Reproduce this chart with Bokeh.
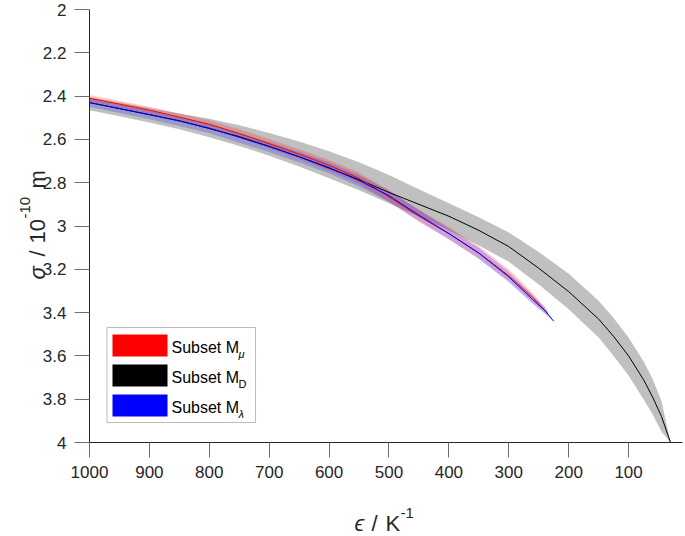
import math
from bokeh.plotting import figure
from bokeh.models import Range1d, FixedTicker, NumeralTickFormatter, Label, BoxAnnotation
from bokeh.embed import file_html
from bokeh.resources import INLINE

# ---------------- data ----------------
# Subset M_D (black line with grey band)
eps_D = [1000, 950, 900, 850, 800, 750, 700, 650, 600, 550, 500, 450, 400,
         350, 300, 250, 200, 150, 125, 100, 75, 60, 45, 30]
sig_D = [2.43, 2.458, 2.486, 2.514, 2.55, 2.587, 2.632, 2.68, 2.733, 2.786,
         2.845, 2.90, 2.955, 3.02, 3.095, 3.195, 3.303, 3.43, 3.51, 3.60,
         3.71, 3.79, 3.88, 4.0]
sig_D_lo = [2.405, 2.43, 2.455, 2.48, 2.505, 2.535, 2.57, 2.61, 2.655, 2.705,
            2.765, 2.83, 2.895, 2.96, 3.03, 3.12, 3.22, 3.345, 3.425, 3.515,
            3.625, 3.705, 3.81, 4.0]
sig_D_hi = [2.465, 2.493, 2.522, 2.553, 2.59, 2.63, 2.675, 2.725, 2.78, 2.835,
            2.895, 2.955, 3.02, 3.09, 3.165, 3.27, 3.385, 3.515, 3.60, 3.69,
            3.80, 3.87, 3.95, 4.0]

# Subset M_mu (red)
eps_mu = [1000, 950, 900, 850, 800, 750, 700, 650, 600, 550, 500, 450, 400,
          350, 300, 260, 235]
sig_mu = [2.41, 2.437, 2.465, 2.497, 2.53, 2.573, 2.62, 2.668, 2.72, 2.78,
          2.865, 2.955, 3.035, 3.125, 3.23, 3.33, 3.405]
sig_mu_lo = [2.395, 2.421, 2.449, 2.48, 2.512, 2.553, 2.598, 2.645, 2.695,
             2.753, 2.835, 2.925, 3.005, 3.095, 3.20, 3.31, 3.39]
sig_mu_hi = [2.425, 2.453, 2.481, 2.514, 2.548, 2.593, 2.642, 2.69, 2.745,
             2.805, 2.89, 2.98, 3.06, 3.15, 3.255, 3.355, 3.415]

# Subset M_lambda (blue)
eps_lam = [1000, 950, 900, 850, 800, 750, 700, 650, 600, 550, 500, 450, 400,
           350, 300, 260, 240, 225]
sig_lam = [2.43, 2.457, 2.485, 2.515, 2.548, 2.59, 2.633, 2.68, 2.73, 2.79,
           2.86, 2.95, 3.035, 3.125, 3.235, 3.34, 3.39, 3.44]
sig_lam_lo = [2.412, 2.439, 2.467, 2.497, 2.53, 2.571, 2.613, 2.658, 2.707,
              2.766, 2.836, 2.926, 3.011, 3.101, 3.212, 3.32, 3.375, 3.44]
sig_lam_hi = [2.45, 2.478, 2.507, 2.538, 2.572, 2.615, 2.659, 2.707, 2.758,
              2.818, 2.888, 2.977, 3.062, 3.152, 3.26, 3.36, 3.405, 3.44]

x_ticks = [100, 200, 300, 400, 500, 600, 700, 800, 900, 1000]
y_ticks = [2.0, 2.2, 2.4, 2.6, 2.8, 3.0, 3.2, 3.4, 3.6, 3.8, 4.0]
legend_names = ["Subset M", "Subset M", "Subset M"]
legend_subs = ["\u03bc", "D", "\u03bb"]
legend_colors = ["#ff0000", "#000000", "#0000ff"]

# ---------------- layout ----------------
X_START, X_END = 1000, 10
Y_TOP, Y_BOTTOM = 2.0, 4.0
FRAME_L, FRAME_R, FRAME_T, FRAME_B = 89, 682, 9, 442   # canvas pixels
W, H = 685, 536
FONT = "Liberation Sans"
AX_COLOR = "#262626"


def dx(px):
    return X_START + (px - FRAME_L) / (FRAME_R - FRAME_L) * (X_END - X_START)


def dy(py):
    return Y_TOP + (py - FRAME_T) / (FRAME_B - FRAME_T) * (Y_BOTTOM - Y_TOP)


p = figure(
    frame_width=FRAME_R - FRAME_L, frame_height=FRAME_B - FRAME_T,
    min_border_left=FRAME_L, min_border_right=W - FRAME_R,
    min_border_top=FRAME_T, min_border_bottom=H - FRAME_B,
    x_range=Range1d(X_START, X_END), y_range=Range1d(Y_BOTTOM, Y_TOP),
    output_backend="svg", toolbar_location=None,
)
p.outline_line_color = None
p.grid.visible = False
p.background_fill_color = "white"
p.border_fill_color = "white"

for ax in (p.xaxis[0], p.yaxis[0]):
    ax.axis_line_color = AX_COLOR
    ax.axis_line_width = 1
    ax.major_tick_line_color = "#6e6e6e"
    ax.major_tick_in = 0
    ax.major_tick_out = 15
    ax.minor_tick_line_color = None
    ax.major_label_text_font = FONT
    ax.major_label_text_font_size = "17px"
    ax.major_label_text_color = AX_COLOR
p.xaxis[0].ticker = FixedTicker(ticks=x_ticks)
p.yaxis[0].ticker = FixedTicker(ticks=y_ticks)
p.yaxis[0].formatter = NumeralTickFormatter(format="0.[0]")
p.xaxis[0].major_label_standoff = 8
p.yaxis[0].major_label_standoff = 8

# ---------------- data marks ----------------
p.varea(x=eps_D, y1=sig_D_lo, y2=sig_D_hi, fill_color="#c0c0c0", fill_alpha=1.0)
p.varea(x=eps_mu, y1=sig_mu_lo, y2=sig_mu_hi, fill_color="#ff0000", fill_alpha=0.2)
p.varea(x=eps_lam, y1=sig_lam_lo, y2=sig_lam_hi, fill_color="#0000ff", fill_alpha=0.2)
p.line(x=eps_D, y=sig_D, line_color="#000000", line_width=1)
p.line(x=eps_mu, y=sig_mu, line_color="#ff0000", line_width=1)
p.line(x=eps_lam, y=sig_lam, line_color="#0000ff", line_width=1)

# ---------------- legend (drawn by hand for subscripts) ----------------
p.add_layout(BoxAnnotation(left=dx(106.5), right=dx(255), top=dy(327), bottom=dy(422),
                           fill_color="white", fill_alpha=1.0,
                           line_color=AX_COLOR, line_width=1))
for i, (name, sub, col) in enumerate(zip(legend_names, legend_subs, legend_colors)):
    cy = 345 + 30 * i
    p.add_layout(BoxAnnotation(left=dx(112), right=dx(167), top=dy(cy - 11), bottom=dy(cy + 11),
                               fill_color=col, fill_alpha=1.0, line_color=None))
    p.add_layout(Label(x=dx(171), y=dy(cy + 2), text=name, text_font=FONT,
                       text_font_size="16px", text_color="#000000",
                       text_align="left", text_baseline="alphabetic"))
    p.add_layout(Label(x=dx(238), y=dy(cy + 8), text=sub, text_font=FONT,
                       text_font_size="11px", text_color="#000000",
                       text_font_style="italic" if sub != "D" else "normal",
                       text_align="left", text_baseline="alphabetic"))

# ---------------- axis titles ----------------
# Placed in the (off-window) right side panel so that they are not clipped to
# the frame; their positions are in data units of the frame scales.
ylab = [("\u03c3", 279, 37, "22px", "italic"),
        ("/", 256, 37, "22px", "normal"),
        ("10", 243, 37, "22px", "normal"),
        ("-10", 218, 24, "15px", "normal"),
        ("m", 188, 37, "22px", "normal")]
for txt, py, px, fs, st in ylab:
    p.add_layout(Label(x=dx(px), y=dy(py), text=txt, angle=math.pi / 2,
                       text_font=FONT, text_font_size=fs, text_font_style=st,
                       text_color=AX_COLOR, text_align="left",
                       text_baseline="alphabetic"), "right")
xlab = [("\u03f5", 354, 523, "22px", "italic"),
        ("/", 371, 523, "22px", "normal"),
        ("K", 385, 523, "22px", "normal"),
        ("-1", 400, 512, "15px", "normal")]
for txt, px, py, fs, st in xlab:
    p.add_layout(Label(x=dx(px), y=dy(py), text=txt,
                       text_font=FONT, text_font_size=fs, text_font_style=st,
                       text_color=AX_COLOR, text_align="left",
                       text_baseline="alphabetic"), "right")

open("out.html", "w").write(file_html(p, INLINE))
